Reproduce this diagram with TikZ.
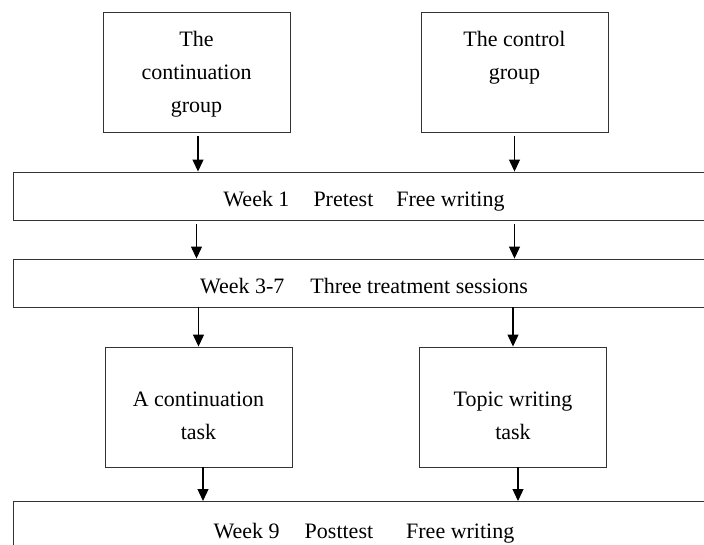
\documentclass[tikz,border=0pt]{standalone}
\usepackage{fontspec}
\setmainfont{Liberation Serif}
\usetikzlibrary{arrows.meta}
\tikzset{
  box/.style={draw=black!80,line width=0.9pt,minimum width=187pt,minimum height=120pt,align=center,inner sep=0pt},
  bar/.style={draw=black!80,line width=0.9pt,minimum width=702pt,minimum height=48pt,inner sep=0pt,text height=24pt,text depth=4pt},
  flow/.style={line width=1.2pt,-{Triangle[length=12pt,width=11pt]}}
}
\begin{document}
\begin{tikzpicture}[x=1pt,y=-1pt,every node/.style={font=\fontsize{22}{33}\selectfont}]
\useasboundingbox (0,0) rectangle (704,544);
% groups
\node[box] (cont) at (196.5,72.3) {\rule{0pt}{20pt}The\\continuation\\group};
\node[box] (ctrl) at (514.5,72.3) {The control\\group\\\mbox{}};
% weeks
\node[bar] (wk1) at (364,196) {Week 1\hspace{24pt}Pretest\hspace{23pt}Free writing};
\node[bar] (wk3) at (364,283) {Week 3-7\hspace{26pt}Three treatment sessions};
% tasks
\node[box] (task1) at (198.5,407) {\rule{0pt}{32pt}A continuation\\task};
\node[box] (task2) at (513,407) {\rule{0pt}{32pt}Topic writing\\task};
\node[bar,anchor=north,minimum height=54pt] (wk9) at (364,501) {Week 9\hspace{25pt}Posttest\hspace{33pt}Free writing};
% arrows
\draw[flow,shorten <=3pt] ([xshift=1.5pt]cont.south) -- ([xshift=1.5pt]cont.south |- wk1.north);
\draw[flow,shorten <=3pt] (ctrl.south) -- (ctrl.south |- wk1.north);
\draw[flow,shorten <=4pt] (wk1.south -| cont) -- (wk3.north -| cont);
\draw[flow,shorten <=4pt] (wk1.south -| ctrl) -- (wk3.north -| ctrl);
\draw[flow] (wk3.south -| task1) -- (task1.north);
\draw[flow] (wk3.south -| task2) -- (task2.north);
\draw[flow] ([xshift=4.5pt]task1.south) -- ([xshift=4.5pt]task1.south |- wk9.north);
\draw[flow] ([xshift=5pt]task2.south) -- ([xshift=5pt]task2.south |- wk9.north);
\end{tikzpicture}
\end{document}
